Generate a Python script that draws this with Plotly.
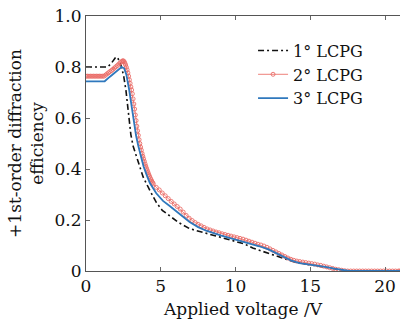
import plotly.graph_objects as go

# ---- data ----
v1 = [0, 1.45, 1.7, 1.9, 2.0, 2.1, 2.25, 2.4, 2.53, 2.67, 2.78, 2.89, 3.0, 3.15, 3.38, 3.6,
      3.82, 4.27, 4.71, 5.1, 5.6, 6.2, 6.93, 7.82, 8.5, 9.2, 10.0, 10.6, 11.15, 11.8, 12.5,
      13.2, 14.0, 15.0, 16.0, 17.0, 17.5, 21.0]
eff1 = [0.80, 0.80, 0.815, 0.833, 0.839, 0.837, 0.822, 0.795, 0.761, 0.709, 0.645, 0.578,
        0.535, 0.49, 0.447, 0.405, 0.369, 0.316, 0.268, 0.238, 0.215, 0.19, 0.166, 0.152,
        0.142, 0.131, 0.118, 0.106, 0.09, 0.077, 0.064, 0.048, 0.034, 0.024, 0.014, 0.005,
        0.0, 0.0]

v2 = [0.0, 0.1, 0.2, 0.3, 0.4, 0.5, 0.6, 0.7, 0.8, 0.9, 1.0, 1.1, 1.2,
      1.3, 1.4, 1.5, 1.6, 1.7, 1.8, 1.9, 2.0, 2.1, 2.2, 2.3, 2.4,
      2.45, 2.5, 2.55, 2.6, 2.65, 2.7, 2.75, 2.8, 2.85, 2.9, 2.95, 3.0, 3.05, 3.1, 3.15,
      3.2, 3.25, 3.3, 3.35, 3.4, 3.45, 3.5, 3.55, 3.6, 3.65, 3.7, 3.75, 3.8, 3.85, 3.9,
      3.95, 4.0, 4.05, 4.1, 4.15, 4.2, 4.25, 4.3, 4.35, 4.4, 4.45, 4.5,
      4.7, 4.9, 5.1, 5.3, 5.5, 5.7, 5.9, 6.1, 6.3, 6.5, 6.7, 6.9, 7.1, 7.3, 7.5, 7.7, 7.9,
      8.1, 8.3, 8.5, 8.7, 8.9, 9.1, 9.3, 9.5, 9.7, 9.9, 10.1, 10.3, 10.5, 10.7, 10.9, 11.1,
      11.3, 11.5, 11.7, 11.9, 12.1, 12.3, 12.5, 12.7, 12.9, 13.1, 13.3, 13.5, 13.7, 13.9,
      14.1, 14.3, 14.5, 14.7, 14.9, 15.1, 15.3, 15.5, 15.7, 15.9, 16.1, 16.3, 16.5, 16.7,
      16.9, 17.1, 17.3, 17.5, 17.7, 17.9, 18.1, 18.3, 18.5, 18.7, 18.9, 19.1, 19.3, 19.5,
      19.7, 19.9, 20.1, 20.3, 20.5, 20.7, 20.9, 21.0]
eff2 = [0.764, 0.764, 0.764, 0.764, 0.764, 0.764, 0.764, 0.764, 0.764, 0.764, 0.764, 0.764, 0.764,
        0.768, 0.773, 0.777, 0.782, 0.786, 0.791, 0.796, 0.801, 0.806, 0.812, 0.817, 0.822,
        0.824, 0.824, 0.821, 0.815, 0.808, 0.799, 0.789, 0.777, 0.764, 0.750, 0.736, 0.722,
        0.710, 0.695, 0.675, 0.655, 0.635, 0.612, 0.590, 0.568, 0.550, 0.532, 0.515, 0.500,
        0.486, 0.474, 0.461, 0.450, 0.440, 0.430, 0.420, 0.411, 0.402, 0.394, 0.386, 0.378,
        0.371, 0.364, 0.358, 0.352, 0.347, 0.342,
        0.328, 0.318, 0.306, 0.295, 0.284, 0.273, 0.263, 0.253, 0.243, 0.231, 0.218, 0.207,
        0.198, 0.190, 0.183, 0.177, 0.171, 0.165, 0.161, 0.157, 0.153, 0.150, 0.146, 0.143,
        0.140, 0.137, 0.134, 0.131, 0.128, 0.125, 0.121, 0.117, 0.113, 0.109, 0.105, 0.102,
        0.098, 0.093, 0.087, 0.081, 0.075, 0.069, 0.063, 0.057, 0.051, 0.046, 0.042, 0.039,
        0.037, 0.035, 0.033, 0.031, 0.029, 0.027, 0.024, 0.022, 0.019, 0.016, 0.013, 0.010,
        0.007, 0.005, 0.003, 0.001, 0.0, 0.0, 0.0, 0.0, 0.0, 0.0, 0.0, 0.0, 0.0, 0.0, 0.0,
        0.0, 0.0, 0.0, 0.0, 0.0, 0.0, 0.0, 0.0]

v3 = [0, 1.25, 1.6, 2.0, 2.38, 2.55, 2.7, 2.89, 3.05, 3.2, 3.35, 3.5, 3.65, 3.85, 4.09, 4.27,
      4.7, 5.15, 5.6, 6.2, 6.93, 7.5, 8.04, 9.0, 9.8, 10.5, 11.0, 11.6, 12.2, 12.7, 13.16,
      13.7, 14.27, 14.9, 15.4, 16.0, 16.6, 17.1, 17.6, 21.0]
eff3 = [0.744, 0.744, 0.762, 0.783, 0.800, 0.795, 0.770, 0.709, 0.64, 0.578, 0.53, 0.49,
        0.455, 0.41, 0.371, 0.345, 0.305, 0.275, 0.255, 0.225, 0.192, 0.172, 0.158, 0.14,
        0.127, 0.117, 0.109, 0.097, 0.085, 0.07, 0.057, 0.042, 0.031, 0.026, 0.022, 0.016,
        0.009, 0.004, 0.0, 0.0]

names = ["1° LCPG", "2° LCPG", "3° LCPG"]
x_ticks = [0, 5, 10, 15, 20]
x_labels = ["0", "5", "10", "15", "20"]
y_ticks = [0, 0.2, 0.4, 0.6, 0.8, 1.0]
y_labels = ["0", "0.2", "0.4", "0.6", "0.8", "1.0"]

FONT = "DejaVu Serif"

fig = go.Figure()
fig.add_trace(go.Scatter(x=v1, y=eff1, mode="lines", name=names[0],
                         line=dict(color="#111111", width=1.6, dash="6px,3px,2px,3px")))
fig.add_trace(go.Scatter(x=v2, y=eff2, mode="lines+markers", name=names[1],
                         line=dict(color="#ee8079", width=1),
                         marker=dict(symbol="circle-open", size=4, color="#ea6c68",
                                     line=dict(width=0.9, color="#ea6c68"))))
fig.add_trace(go.Scatter(x=v3, y=eff3, mode="lines", name=names[2],
                         line=dict(color="#2f78bd", width=1.8)))

axis_common = dict(showgrid=False, zeroline=False, showline=True, linecolor="#555555",
                   linewidth=1, ticks="inside", ticklen=4, tickcolor="#666666",
                   automargin=False, ticklabeloverflow="allow",
                   tickfont=dict(family=FONT, size=17, color="#111111"))

fig.update_xaxes(range=[0, 21], tickvals=x_ticks, ticktext=x_labels, mirror="ticks",
                 title=dict(text="Applied voltage /V", font=dict(family=FONT, size=17, color="#111111"),
                            standoff=7),
                 **axis_common)
fig.update_yaxes(range=[0, 1.0], tickvals=y_ticks, ticktext=y_labels,
                 title=dict(text="+1st-order diffraction<br>efficiency",
                            font=dict(family=FONT, size=17, color="#111111"), standoff=6),
                 **axis_common)

fig.update_layout(
    width=400, height=321,
    margin=dict(l=86, r=0, t=16, b=50),
    paper_bgcolor="white", plot_bgcolor="white",
    font=dict(family=FONT, size=17, color="#111111"),
    legend=dict(x=0.532, y=0.931, xanchor="left", yanchor="top",
                bgcolor="rgba(0,0,0,0)", font=dict(family=FONT, size=16),
                tracegroupgap=0, itemwidth=30),
)

# remove the page's default body margin so the figure fills the 400x321 window
fig.write_html("out.html", config={"displayModeBar": False},
               post_script="document.body.style.margin='0px';")
